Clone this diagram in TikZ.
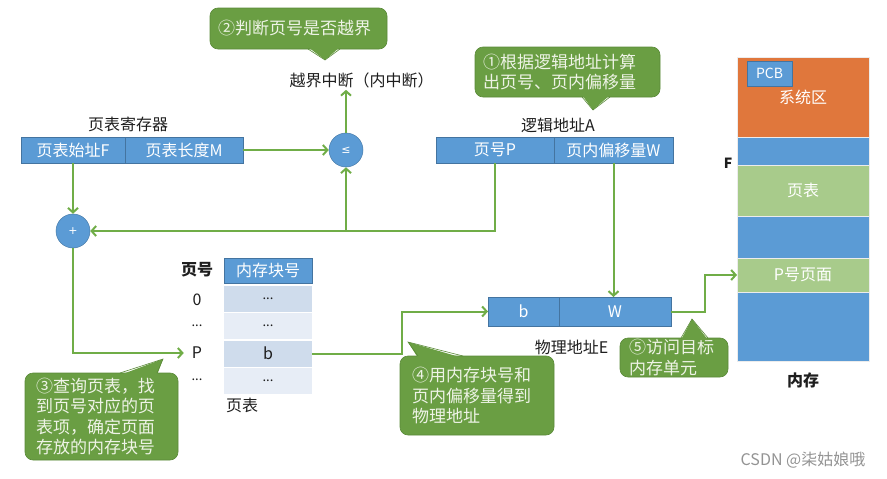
\documentclass[tikz,border=0pt]{standalone}
\usepackage{fontspec}
\setmainfont{Noto Sans CJK SC}
\newfontfamily\symfont{DejaVu Sans}
\usetikzlibrary{arrows.meta,positioning}
\definecolor{SlideBlue}{HTML}{5B9BD5}
\definecolor{SlideOrange}{HTML}{E0773C}
\definecolor{SlideLime}{HTML}{A8CB8B}
\definecolor{FlowGreen}{HTML}{70AD47}
\definecolor{NoteGreen}{HTML}{6A9E43}
\definecolor{NoteEdge}{HTML}{5A8A38}
\definecolor{NoteText}{HTML}{EEF3E6}
\definecolor{RowDark}{HTML}{CFDCEC}
\definecolor{RowLight}{HTML}{E7EDF6}
\definecolor{LabelDark}{HTML}{1E1E1E}
\tikzset{
  field/.style={fill=SlideBlue,draw=SlideBlue!75!black,line width=0.5pt,text=white,inner sep=0pt,outer sep=0pt,minimum height=26,font=\fontsize{16}{19}\selectfont},
  band/.style={draw=white!85!gray,line width=0.7pt,text=white,inner sep=0pt,outer sep=0pt,minimum width=132,font=\fontsize{16}{19}\selectfont},
  row/.style={inner sep=0pt,outer sep=0pt,minimum width=88,minimum height=26,text=LabelDark,font=\fontsize{13}{15}\selectfont},
  opcircle/.style={circle,fill=SlideBlue,draw=SlideBlue!80!black,line width=0.5pt,minimum size=34,inner sep=0pt,text=white},
  lbl/.style={text=LabelDark,inner sep=2pt,font=\fontsize{16}{19}\selectfont},
  note/.style={fill=NoteGreen,draw=NoteEdge,line width=0.6pt,rounded corners=8pt,text=NoteText,inner sep=0pt,align=left,font=\fontsize{17}{20.5}\selectfont},
  tipfill/.style={fill=NoteGreen},
  tipedge/.style={draw=NoteEdge,line width=0.6pt},
  flow/.style={draw=FlowGreen,line width=2pt,-{Straight Barb[length=4.5pt,width=10pt]}},
}
\begin{document}
\begin{tikzpicture}[x=1pt,y=-1pt]
\useasboundingbox (0,0) rectangle (887,479);
% page table register
\node[lbl] (regLbl) at (128,124) {页表寄存器};
\node[field,minimum width=104] (regF) at (73,150) {页表始址F};
\node[field,minimum width=118] (regM) at (184,150) {页表长度M};
% logical address
\node[lbl] (laLbl) at (558,125) {逻辑地址A};
\node[field,minimum width=118] (pgP) at (495,150) {页号P};
\node[field,minimum width=119] (pgW) at (613.5,150) {页内偏移量W};
% compare and add
\node[opcircle,font=\symfont\fontsize{11}{13}\selectfont] (le) at (346,150) {≤};
\node[opcircle,font=\symfont\fontsize{11}{13}\selectfont] (plus) at (73,231) {+};
\node[lbl] (brk) at (361.5,80) {越界中断（内中断）};
% page table
\node[lbl,font=\bfseries\fontsize{16}{19}\selectfont] (hdLbl) at (197,270) {页号};
\node[field,minimum width=88,minimum height=25] (tHead) at (268,270.5) {内存块号};
\node[row,fill=RowDark] (tr0) at (268,298.5) {...};
\node[row,fill=RowLight] (tr1) at (268,326) {...};
\node[row,fill=RowDark,font=\fontsize{16}{19}\selectfont] (tP) at (268,353.5) {b};
\node[row,fill=RowLight] (tr3) at (268,381) {...};
\node[lbl,font=\fontsize{16}{19}\selectfont] (n0) at (197,300) {0};
\node[lbl,font=\fontsize{13}{15}\selectfont] (n1) at (197,326) {...};
\node[lbl] (nP) at (197,353) {P};
\node[lbl,font=\fontsize{13}{15}\selectfont] (n3) at (197,380) {...};
\node[lbl] (tabLbl) at (242,405) {页表};
% physical address
\node[field,minimum width=71,minimum height=29] (phB) at (523.5,311.5) {b};
\node[field,minimum width=112,minimum height=29] (phW) at (615,311.5) {W};
\node[lbl] (paLbl) at (571.5,347) {物理地址E};
% memory
\node[band,fill=SlideOrange,minimum height=80] (mSys) at (803,97) {系统区};
\node[field,minimum width=45,minimum height=25,font=\fontsize{14}{16}\selectfont] (pcb) at (769.5,73.5) {PCB};
\node[band,fill=SlideBlue,minimum height=28] (mB1) at (803,151) {};
\node[band,fill=SlideLime,minimum height=51] (mTab) at (803,190.5) {页表};
\node[band,fill=SlideBlue,minimum height=42] (mB2) at (803,237) {};
\node[band,fill=SlideLime,minimum height=34] (mPage) at (803,275) {P号页面};
\node[band,fill=SlideBlue,minimum height=69] (mB3) at (803,326.5) {};
\node[lbl,font=\bfseries\fontsize{14}{16}\selectfont] (fLbl) at (728,163) {F};
\node[lbl,font=\bfseries\fontsize{16}{19}\selectfont] (memLbl) at (803,380) {内存};
% arrows
\draw[flow] (regM.east) -- (le.west);
\draw[flow] (le.north) -- (le.north |- brk.south);
\draw[flow] (regF.south) -- (plus.north);
\draw[flow] (pgP.south) |- (plus.east);
\draw[flow] (le.south |- plus.east) -- (le.south);
\draw[flow,shorten >=6pt] (plus.south) |- (nP.west);
\draw[flow] (tP.east) -- ++(90,0) |- (phB.west);
\draw[flow] (pgW.south) -- (pgW.south |- phW.north);
\draw[flow] (phW.east) -- ++(34,0) |- (mPage.west);
% callouts
\node[note,minimum width=177,minimum height=41,text width=161] (c2) at (298.5,28.5) {②判断页号是否越界};
\fill[tipfill] (325,60) -- (308,47) -- (340,47) -- cycle;
\draw[tipedge] (308,49) -- (325,60) -- (340,49);
\node[note,minimum width=185,minimum height=50,text width=169] (c1) at (567.5,72) {①根据逻辑地址计算\\出页号、页内偏移量};
\fill[tipfill] (593,110) -- (582,95) -- (610,95) -- cycle;
\draw[tipedge] (582,97) -- (593,110) -- (610,97);
\node[note,minimum width=153,minimum height=87,text width=131] (c3) at (101.5,416.5) {③查询页表，找\\到页号对应的页\\表项，确定页面\\存放的内存块号};
\fill[tipfill] (163,359) -- (120,375) -- (157,375) -- cycle;
\draw[tipedge] (120,373) -- (163,359) -- (157,373);
\node[note,minimum width=154,minimum height=79,text width=130] (c4) at (477,395.5) {④用内存块号和\\页内偏移量得到\\物理地址};
\fill[tipfill] (408,342) -- (418,358) -- (463,358) -- cycle;
\draw[tipedge] (418,356) -- (408,342) -- (463,356);
\node[note,minimum width=108,minimum height=39,text width=90] (c5) at (674,357.5) {⑤访问目标\\内存单元};
\fill[tipfill] (692,319) -- (681,340) -- (708,340) -- cycle;
\draw[tipedge] (681,338) -- (692,319) -- (708,338);
% watermark
\node[text=gray!85,font=\fontsize{16}{19}\selectfont] (mark) at (803,460) {CSDN @柒姑娘哦};
\end{tikzpicture}
\end{document}
